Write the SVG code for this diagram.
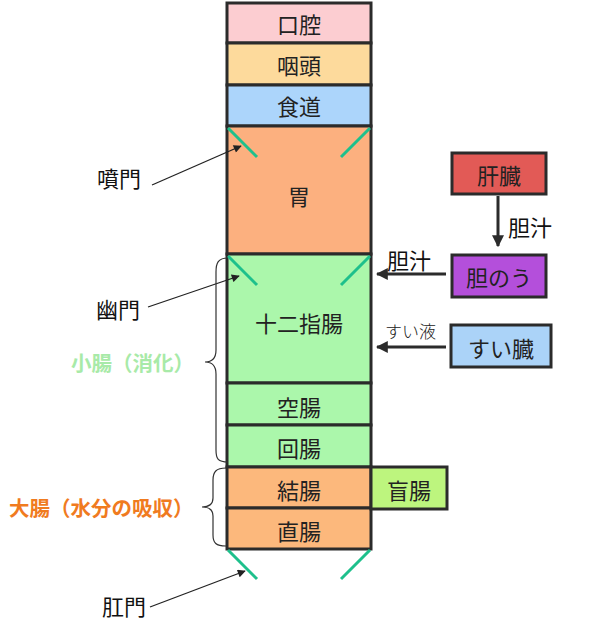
<svg xmlns="http://www.w3.org/2000/svg" width="598" height="622" viewBox="0 0 598 622">
<defs>
<style>
.box{stroke:#2b2b2b;stroke-width:3}
.t{font-family:"Noto Sans CJK JP","Noto Sans",sans-serif;font-size:22px;fill:#222;text-anchor:middle;dominant-baseline:central}
.lbl{font-family:"Noto Sans CJK JP","Noto Sans",sans-serif;font-size:22px;fill:#111;dominant-baseline:central}
.sm{font-family:"Noto Sans CJK JP","Noto Sans",sans-serif;font-size:17px;fill:#222;font-weight:300;dominant-baseline:central}
.grp{font-family:"Noto Sans CJK JP","Noto Sans",sans-serif;font-size:20.5px;font-weight:bold;dominant-baseline:central}
.valve{stroke:#1ec08c;stroke-width:3}
.thin{stroke:#222;stroke-width:1.3;fill:none}
.thick{stroke:#2b2b2b;stroke-width:3;fill:none}
.brace{stroke:#333;stroke-width:1.2;fill:none}
</style>
<marker id="ah" viewBox="0 0 10 10" refX="9" refY="5" markerWidth="10" markerHeight="8" markerUnits="userSpaceOnUse" orient="auto"><path d="M0,0 L10,5 L0,10 z" fill="#222"/></marker>
<marker id="ab" viewBox="0 0 10 10" refX="9" refY="5" markerWidth="12" markerHeight="12" markerUnits="userSpaceOnUse" orient="auto"><path d="M0,0 L10,5 L0,10 z" fill="#2b2b2b"/></marker>
</defs>
<rect width="598" height="622" fill="#fff"/>
<g id="n-koukou"><rect class="box" x="227" y="3" width="144" height="40" fill="#fccdd1"/><text class="t" x="299" y="23">口腔</text></g>
<g id="n-intou"><rect class="box" x="227" y="43" width="144" height="42" fill="#fdda9c"/><text class="t" x="299" y="64">咽頭</text></g>
<g id="n-shokudou"><rect class="box" x="227" y="85" width="144" height="41" fill="#acd5fb"/><text class="t" x="299" y="105">食道</text></g>
<g id="n-i"><rect class="box" x="227" y="126" width="144" height="128" fill="#fcb07f"/><text class="t" x="299" y="195">胃</text></g>
<g id="n-juunishichou"><rect class="box" x="227" y="254" width="144" height="129" fill="#abf7ab"/><text class="t" x="299" y="322">十二指腸</text></g>
<g id="n-kuuchou"><rect class="box" x="227" y="383" width="144" height="42" fill="#abf7ab"/><text class="t" x="299" y="406">空腸</text></g>
<g id="n-kaichou"><rect class="box" x="227" y="425" width="144" height="42" fill="#abf7ab"/><text class="t" x="299" y="447">回腸</text></g>
<g id="n-kecchou"><rect class="box" x="227" y="467" width="144" height="41" fill="#fcb87c"/><text class="t" x="299" y="489">結腸</text></g>
<g id="n-chokuchou"><rect class="box" x="227" y="508" width="144" height="41" fill="#fcb87c"/><text class="t" x="299" y="530">直腸</text></g>
<g id="n-mouchou"><rect class="box" x="371" y="467" width="76" height="42" fill="#bdf57e"/><text class="t" x="409" y="489">盲腸</text></g>
<g id="n-kanzou"><rect class="box" x="452" y="153" width="94" height="41" fill="#e25a56"/><text class="t" x="499" y="174">肝臓</text></g>
<g id="n-tannou"><rect class="box" x="452" y="255" width="94" height="42" fill="#b44fdb"/><text class="t" x="499" y="276">胆のう</text></g>
<g id="n-suizou"><rect class="box" x="451" y="325" width="100" height="42" fill="#abd3f8"/><text class="t" x="501" y="347">すい臓</text></g>
<g id="valves">
<line class="valve" x1="228" y1="128" x2="257" y2="157"/><line class="valve" x1="370" y1="128" x2="341" y2="157"/>
<line class="valve" x1="228" y1="256" x2="257" y2="285"/><line class="valve" x1="370" y1="256" x2="341" y2="285"/>
<line class="valve" x1="228" y1="550" x2="257" y2="579"/><line class="valve" x1="370" y1="550" x2="341" y2="579"/>
</g>
<g id="connectors">
<line class="thin" x1="152" y1="185" x2="241" y2="146" marker-end="url(#ah)"/>
<line class="thin" x1="148" y1="307" x2="239" y2="276" marker-end="url(#ah)"/>
<line class="thin" x1="150" y1="607" x2="245" y2="571" marker-end="url(#ah)"/>
<line class="thick" x1="498" y1="196" x2="498" y2="246" marker-end="url(#ab)"/>
<line class="thick" x1="446" y1="274" x2="377" y2="274" marker-end="url(#ab)"/>
<line class="thick" x1="446" y1="347" x2="377" y2="347" marker-end="url(#ab)"/>
</g>
<g id="labels">
<text class="lbl" x="97" y="177">噴門</text>
<text class="lbl" x="96" y="308">幽門</text>
<text class="lbl" x="102" y="605">肛門</text>
<text class="lbl" x="508" y="226">胆汁</text>
<text class="lbl" x="387" y="259">胆汁</text>
<text class="sm" x="385" y="330">すい液</text>
</g>
<g id="braces">
<path class="brace" d="M228,258 C218,258 216,263 216,272 L216,350 C216,358 212,362 205,362 C212,362 216,366 216,374 L216,450 C216,459 218,462 228,462"/>
<path class="brace" d="M226,468 C216,468 213,472 213,480 L213,498 C213,504 209,507 202,507 C209,507 213,510 213,516 L213,535 C213,543 216,546 226,546"/>
<text class="grp" x="71" y="362" fill="#a8eaa8">小腸（消化）</text>
<text class="grp" x="9" y="507" fill="#f07b1f">大腸（水分の吸収）</text>
</g>
</svg>
